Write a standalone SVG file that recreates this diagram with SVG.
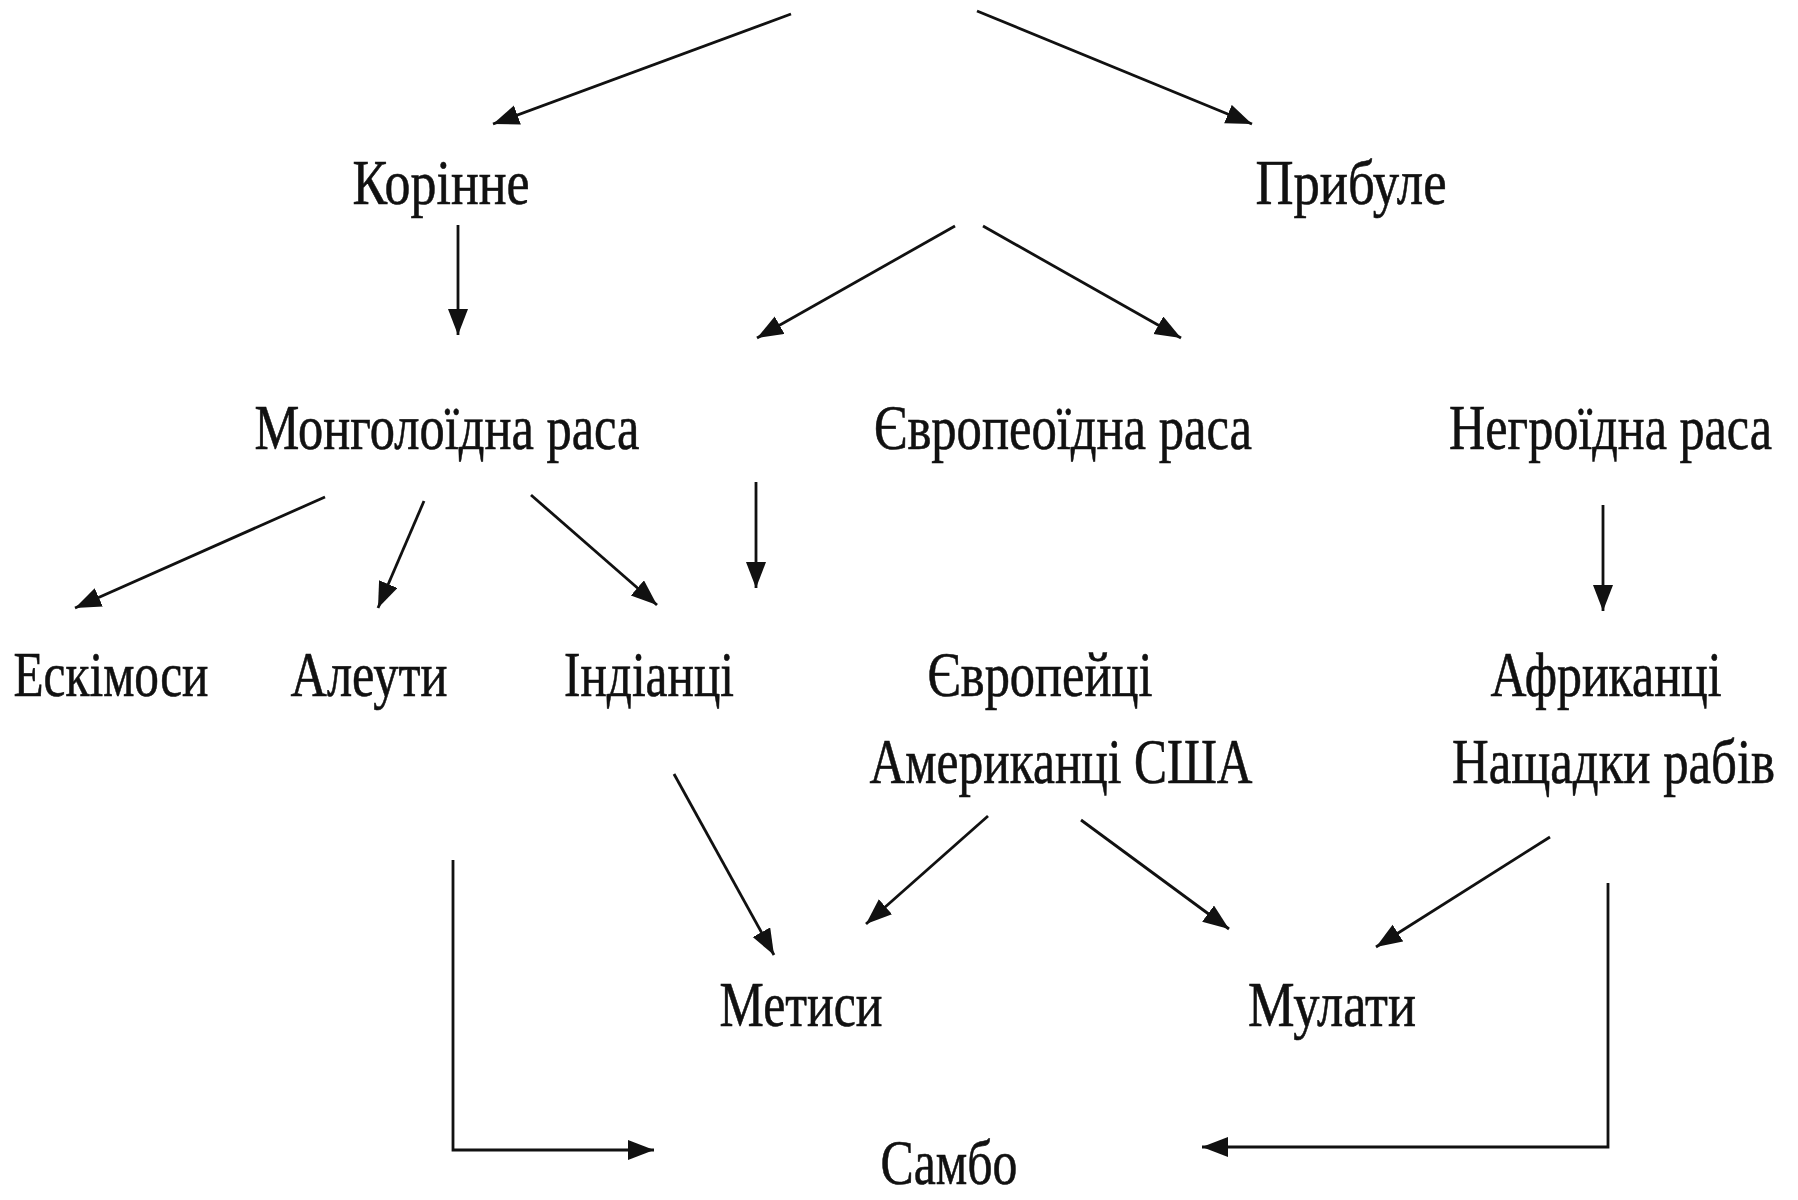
<svg xmlns="http://www.w3.org/2000/svg" width="1798" height="1200" viewBox="0 0 1798 1200">
<style>
text{font-family:"Liberation Serif","Times New Roman",serif;font-size:64px;fill:#111;stroke:#111;stroke-width:0.6;text-anchor:middle}
text.r{text-anchor:end}
.c line,.c polyline{stroke:#111;stroke-width:2.8;fill:none;marker-end:url(#ah)}
</style>
<defs>
<marker id="ah" markerUnits="userSpaceOnUse" markerWidth="28" markerHeight="22" refX="26" refY="10" orient="auto">
<path d="M0,0 L26,10 L0,20 z" fill="#111"/>
</marker>
</defs>
<rect width="1798" height="1200" fill="#fff"/>
<g class="c" id="connectors">
<line x1="791" y1="14" x2="493" y2="124"/>
<line x1="977" y1="11" x2="1252" y2="124"/>
<line x1="458" y1="225" x2="458" y2="335"/>
<line x1="955" y1="226" x2="757" y2="338"/>
<line x1="983" y1="226" x2="1181" y2="338"/>
<line x1="325" y1="497" x2="75" y2="608"/>
<line x1="424" y1="501" x2="378" y2="608"/>
<line x1="531" y1="495" x2="657" y2="605"/>
<line x1="756" y1="482" x2="756" y2="588"/>
<line x1="1603" y1="505" x2="1603" y2="611"/>
<line x1="674" y1="774" x2="774" y2="955"/>
<line x1="988" y1="816" x2="866" y2="924"/>
<line x1="1081" y1="820" x2="1229" y2="929"/>
<line x1="1550" y1="837" x2="1376" y2="947"/>
<polyline points="453,860 453,1150 654,1150"/>
<polyline points="1608,883 1608,1147 1202,1147"/>
</g>
<g id="n-korinne"><text x="441" y="204" textLength="177" lengthAdjust="spacingAndGlyphs">Корінне</text></g>
<g id="n-prybule"><text x="1351" y="204" textLength="191" lengthAdjust="spacingAndGlyphs">Прибуле</text></g>
<g id="n-mongol"><text x="447" y="449" textLength="385" lengthAdjust="spacingAndGlyphs">Монголоїдна раса</text></g>
<g id="n-europ"><text x="1063" y="449" textLength="378" lengthAdjust="spacingAndGlyphs">Європеоїдна раса</text></g>
<g id="n-negro"><text class="r" transform="translate(1772,449) scale(0.78,1)" x="0" y="0" textLength="414" lengthAdjust="spacingAndGlyphs">Негроїдна раса</text></g>
<g id="n-eskimo"><text x="111" y="696" textLength="195" lengthAdjust="spacingAndGlyphs">Ескімоси</text></g>
<g id="n-aleut"><text x="369" y="696" textLength="157" lengthAdjust="spacingAndGlyphs">Алеути</text></g>
<g id="n-indian"><text x="649" y="696" textLength="170" lengthAdjust="spacingAndGlyphs">Індіанці</text></g>
<g id="n-europeans">
<text x="1040" y="696" textLength="225" lengthAdjust="spacingAndGlyphs">Європейці</text>
<text x="1061" y="783" textLength="383" lengthAdjust="spacingAndGlyphs">Американці США</text>
</g>
<g id="n-africans">
<text x="1606" y="696" textLength="231" lengthAdjust="spacingAndGlyphs">Африканці</text>
<text class="r" transform="translate(1775,783) scale(0.76,1)" x="0" y="0" textLength="425" lengthAdjust="spacingAndGlyphs">Нащадки рабів</text>
</g>
<g id="n-metysy"><text x="801" y="1026" textLength="163" lengthAdjust="spacingAndGlyphs">Метиси</text></g>
<g id="n-mulaty"><text x="1332" y="1026" textLength="168" lengthAdjust="spacingAndGlyphs">Мулати</text></g>
<g id="n-sambo"><text x="949" y="1184" textLength="137" lengthAdjust="spacingAndGlyphs">Самбо</text></g>
</svg>
